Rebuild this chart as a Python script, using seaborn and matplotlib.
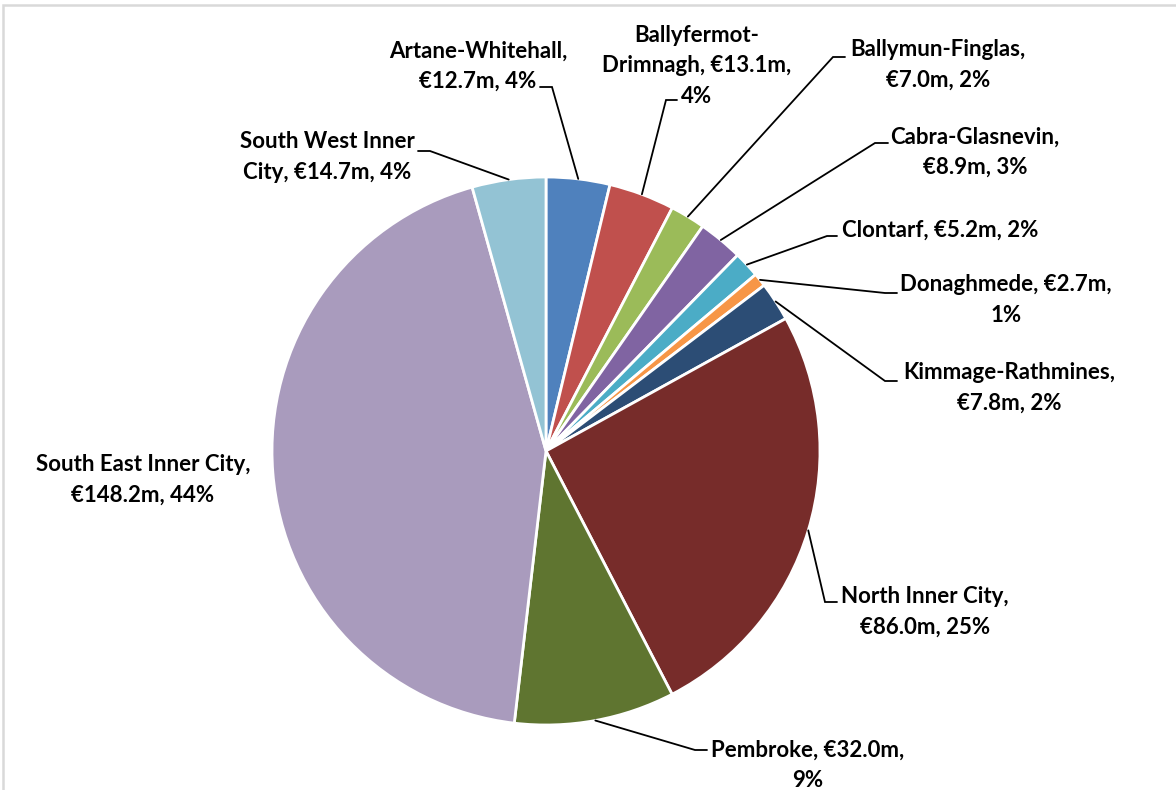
import matplotlib
matplotlib.use("Agg")
import matplotlib.pyplot as plt
import seaborn as sns
from matplotlib.patches import Rectangle
import numpy as np

sns.set_theme(style="white")
plt.rcParams['font.family'] = ['Lato', 'DejaVu Sans']

# Data
areas = ["Artane-Whitehall", "Ballyfermot-Drimnagh", "Ballymun-Finglas", "Cabra-Glasnevin",
         "Clontarf", "Donaghmede", "Kimmage-Rathmines", "North Inner City", "Pembroke",
         "South East Inner City", "South West Inner City"]
spend_m = [12.7, 13.1, 7.0, 8.9, 5.2, 2.7, 7.8, 86.0, 32.0, 148.2, 14.7]
colors = ["#4F81BD", "#C0504D", "#9BBB59", "#8064A2", "#4BACC6", "#F79646",
          "#2C4D75", "#772C2A", "#5F7530", "#A99BBD", "#93C3D4"]

# label layout (pixel coords of the reference, y measured from top)
display_names = ["Artane-Whitehall", "Ballyfermot-\nDrimnagh", "Ballymun-Finglas", "Cabra-Glasnevin",
                 "Clontarf", "Donaghmede", "Kimmage-Rathmines", "North Inner City", "Pembroke",
                 "South East Inner City", "South West Inner\nCity"]
sep_name = [",\n", ", ", ",\n", ",\n", ", ", ", ", ",\n", ",\n", ", ", ",\n", ", "]
sep_pct = [", ", ",\n", ", ", ", ", ", ", ",\n", ", ", ", ", ",\n", ", ", ", "]
label_pos = [(478, 66), (697, 66), (938, 65), (975, 152), (940, 230), (1006, 300),
             (1009, 388), (925, 612), (808, 765), (143, 480), (327, 157)]
elbows = [(552, 87), (666, 100), (833, 57), (875, 143), (827, 236), (885, 293),
          (885, 381), (825, 602), (695, 750), None, (430, 151)]
ends = [(540, 87), (677, 100), (845, 57), (888, 143), (837, 236), (897, 293),
        (897, 381), (837, 602), (707, 750), None, (418, 151)]

W, H = 1176, 790
cx, cy, R = 546, 451, 274

fig = plt.figure(figsize=(W / 100, H / 100), dpi=100)
ax = fig.add_axes([0, 0, 1, 1])

ax.add_patch(Rectangle((3, -20), W + 20, H - 5 + 20, fill=False, edgecolor="#D9D9D9", lw=1.8))

wedges, _ = ax.pie(spend_m, colors=colors, startangle=90, counterclock=False,
                   center=(cx, H - cy), radius=R, frame=True,
                   wedgeprops=dict(edgecolor="white", linewidth=2))
ax.set_xlim(0, W)
ax.set_ylim(0, H)
ax.set_aspect('equal')
ax.axis('off')

total = sum(spend_m)
for i, w in enumerate(wedges):
    pct = spend_m[i] / total * 100
    text = f"{display_names[i]}{sep_name[i]}€{spend_m[i]:.1f}m{sep_pct[i]}{pct:.0f}%"
    lx, ly = label_pos[i]
    ax.text(lx, H - ly, text, ha='center', va='center', fontsize=16, fontweight='bold',
            color='black', linespacing=1.55)
    if elbows[i] is not None:
        ang = np.deg2rad((w.theta1 + w.theta2) / 2)
        px = cx + R * np.cos(ang)
        py = (H - cy) + R * np.sin(ang)
        ex, ey = elbows[i]
        tx, ty = ends[i]
        ax.plot([px, ex, tx], [py, H - ey, H - ty], color='black', lw=1.3,
                solid_joinstyle='miter')

fig.savefig("out.png", dpi=100)
